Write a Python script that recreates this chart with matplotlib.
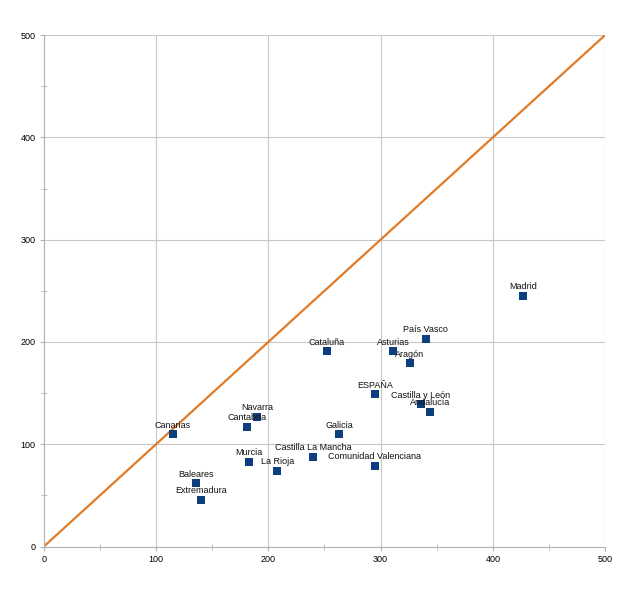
import matplotlib
matplotlib.use("Agg")
import matplotlib.pyplot as plt
from matplotlib.ticker import MultipleLocator

regions = ["Madrid", "País Vasco", "Cataluña", "Asturias", "Aragón", "ESPAÑA",
           "Castilla y León", "Andalucía", "Canarias", "Navarra", "Cantabria",
           "Galicia", "Castilla La Mancha", "Murcia", "La Rioja",
           "Comunidad Valenciana", "Baleares", "Extremadura"]
x_vals = [427, 340, 252, 311, 326, 295, 336, 344, 115, 190, 181, 263, 240, 183, 208, 295, 136, 140]
y_vals = [245, 203, 191, 191, 179, 149, 139, 132, 110, 127, 117, 110, 88, 83, 74, 79, 62, 46]
diag = [0, 500]
ticks = [0, 100, 200, 300, 400, 500]

plt.rcParams['font.family'] = ['Liberation Sans', 'DejaVu Sans']

fig = plt.figure(figsize=(6.4, 6.04), dpi=100)
ax = fig.add_axes([0.0683, 0.095, 0.8773, 0.847])

ax.set_xlim(0, 500)
ax.set_ylim(0, 500)
ax.set_xticks(ticks)
ax.set_yticks(ticks)
ax.xaxis.set_minor_locator(MultipleLocator(50))
ax.yaxis.set_minor_locator(MultipleLocator(50))
ax.grid(True, which='major', color='#c8c8c8', linewidth=0.8)
ax.set_axisbelow(True)
for s in ['top', 'right']:
    ax.spines[s].set_visible(False)
for s in ['left', 'bottom']:
    ax.spines[s].set_color('#b3b3b3')
    ax.spines[s].set_linewidth(0.8)
ax.tick_params(which='major', direction='out', length=3, color='#b3b3b3',
               labelsize=6.5, pad=3)
ax.tick_params(which='minor', direction='inout', length=4, color='#b3b3b3')

ax.plot(diag, diag, color='#e07b28', linewidth=1.6, zorder=2)
ax.scatter(x_vals, y_vals, marker='s', s=30, color='#0d3f7f', zorder=3, linewidths=0)

for name, xv, yv in zip(regions, x_vals, y_vals):
    ax.annotate(name, (xv, yv), xytext=(0, 6.5), textcoords='offset points',
                ha='center', va='center', fontsize=6.5, color='#111111', zorder=4)

fig.savefig("out.png", dpi=100, facecolor='white')
